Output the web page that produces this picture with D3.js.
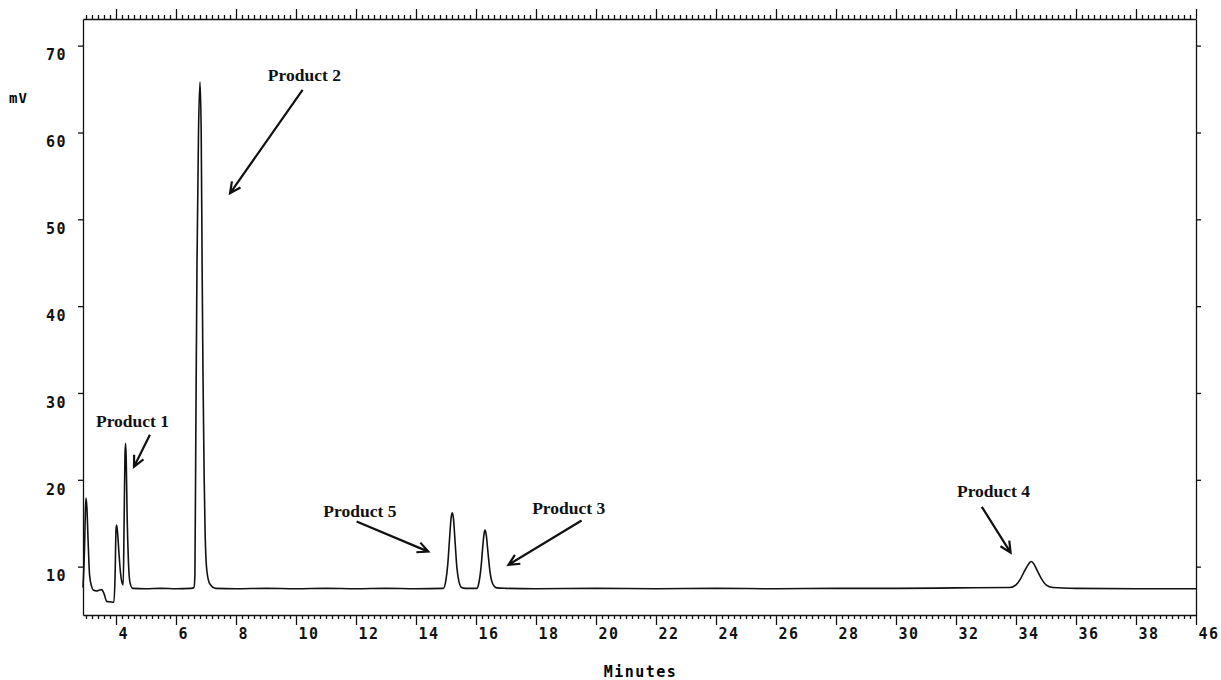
<!DOCTYPE html>
<html>
<head>
<meta charset="utf-8">
<script src="https://cdn.jsdelivr.net/npm/d3@7"></script>
<style>
  body { margin: 0; background: #fff; }
  svg { display: block; }
  .axis text { font-family: "DejaVu Sans Mono", monospace; font-weight: bold; font-size: 15px; letter-spacing: 1.5px; fill: #111; }
  .axis path, .axis line { stroke: #111; stroke-width: 1.3; }
  .note { font-family: "Liberation Serif", "Times New Roman", serif; font-weight: bold; font-size: 17.5px; fill: #111; }
</style>
</head>
<body>
<svg id="chart" width="1221" height="680"></svg>
<script>
// retention time (minutes) and detector signal (mV)
var times = [2.9, 2.95, 2.98, 3.0, 3.03, 3.07, 3.12, 3.19, 3.24, 3.35, 3.45, 3.52, 3.6, 3.69, 3.8, 3.93,
  3.97, 4.0, 4.02, 4.05, 4.1, 4.15, 4.19, 4.24, 4.27, 4.3, 4.32, 4.34, 4.37, 4.41, 4.47, 4.56,
  5.0, 5.5, 6.0, 6.5, 6.6, 6.63, 6.66, 6.7, 6.75, 6.8, 6.84, 6.87, 6.9, 6.94, 6.97, 7.03, 7.13, 7.33,
  8, 9, 10, 11, 12, 13, 14, 14.91, 14.99, 15.06, 15.12, 15.17, 15.21, 15.25, 15.3, 15.36, 15.43, 15.52, 15.65,
  16.03, 16.1, 16.17, 16.23, 16.27, 16.3, 16.34, 16.4, 16.47, 16.56, 16.69,
  17, 18, 20, 22, 24, 26, 28, 30, 32, 33.8, 34.0, 34.15, 34.3, 34.42, 34.5, 34.58, 34.7, 34.85, 35.0, 35.23,
  36, 38, 40];
var signal = [7.6, 12, 16.5, 17.9, 16.8, 13, 9, 7.7, 7.3, 7.2, 7.3, 7.35, 6.9, 6.0, 5.95, 5.9,
  9, 14.2, 14.8, 14, 11.5, 9.3, 8.3, 7.9, 15, 23, 24.2, 22.5, 16, 11, 8.1, 7.5,
  7.45, 7.5, 7.45, 7.5, 7.6, 9, 25, 45, 60, 65.8, 60, 45, 32, 20, 14, 9.5, 8.0, 7.5,
  7.45, 7.5, 7.45, 7.5, 7.45, 7.5, 7.45, 7.5, 8.3, 10.3, 13.3, 15.6, 16.2, 15.5, 13.0, 10.0, 8.3, 7.6, 7.5,
  7.5, 8.2, 10.0, 12.5, 13.8, 14.2, 13.7, 11.6, 9.3, 8.0, 7.55,
  7.5, 7.45, 7.5, 7.45, 7.5, 7.45, 7.5, 7.5, 7.55, 7.6, 7.9, 8.6, 9.6, 10.3, 10.6, 10.4, 9.6, 8.6, 7.9, 7.6,
  7.5, 7.45, 7.45];

var xTickValues = [4, 6, 8, 10, 12, 14, 16, 18, 20, 22, 24, 26, 28, 30, 32, 34, 36, 38, 40];
var xTickLabels = ["4", "6", "8", "10", "12", "14", "16", "18", "20", "22", "24", "26", "28", "30", "32", "34", "36", "38", "46"];
var yTickValues = [10, 20, 30, 40, 50, 60, 70];

// labels: text, anchor [min, mV], arrow start and end [min, mV]
var labelNames = ["Product 1", "Product 2", "Product 5", "Product 3", "Product 4"];
var labelAt = [[4.55, 26.1], [10.28, 65.94], [12.13, 15.7], [19.09, 16.08], [33.25, 18.07]];
var arrowFrom = [[5.13, 25.19], [10.22, 64.9], [12.02, 15.19], [19.52, 15.31], [32.86, 16.89]];
var arrowTo = [[4.6, 21.5], [7.8, 53.0], [14.41, 11.73], [17.08, 10.2], [33.82, 11.61]];

var svg = d3.select("#chart");
var plotLeft = 83, plotRight = 1196, plotTop = 19, plotBottom = 615;

var x = d3.scaleLinear().domain([2.9, 40]).range([plotLeft, plotRight]);
var y = d3.scaleLinear().domain([4.43, 73.07]).range([plotBottom, plotTop]);

//minor ticks every 0.2 min, skipping the even minutes
var minorTicks = d3.range(30, 401, 2).filter(d => d % 20 != 0).map(d => d / 10);

// bottom axis
svg.append("g").attr("class", "axis")
  .attr("transform", "translate(0," + plotBottom + ")")
  .call(d3.axisBottom(x).tickValues(minorTicks).tickSize(4).tickSizeOuter(0).tickFormat(""));
var bx = svg.append("g").attr("class", "axis")
  .attr("transform", "translate(0," + plotBottom + ")")
  .call(d3.axisBottom(x).tickValues(xTickValues).tickSize(10).tickSizeOuter(0)
    .tickFormat((d, i) => xTickLabels[i]));
bx.selectAll("text").attr("text-anchor", "start").attr("dx", 2).attr("y", 13);
bx.select(".domain").remove();

// top axis
svg.append("g").attr("class", "axis")
  .attr("transform", "translate(0," + plotTop + ")")
  .call(d3.axisTop(x).tickValues(minorTicks).tickSize(4).tickSizeOuter(0).tickFormat(""));
svg.append("g").attr("class", "axis")
  .attr("transform", "translate(0," + plotTop + ")")
  .call(d3.axisTop(x).tickValues(xTickValues).tickSize(10).tickSizeOuter(0).tickFormat(""))
  .select(".domain").remove();

// left and right axes
var ly = svg.append("g").attr("class", "axis")
  .attr("transform", "translate(" + plotLeft + ",0)")
  .call(d3.axisLeft(y).tickValues(yTickValues).tickSize(5).tickSizeOuter(0).tickPadding(11));
ly.selectAll("text").attr("dy", "0.95em").attr("y", 0);
svg.append("g").attr("class", "axis")
  .attr("transform", "translate(" + plotRight + ",0)")
  .call(d3.axisRight(y).tickValues(yTickValues).tickSize(5).tickSizeOuter(0).tickFormat(""));

// axis titles
svg.append("text")
  .attr("x", 9).attr("y", 103)
  .style("font-family", "DejaVu Sans Mono, monospace").style("font-weight", "bold").style("font-size", "14px")
  .style("letter-spacing", "1px")
  .text("mV");
svg.append("text")
  .attr("x", (plotLeft + plotRight) / 2 + 1).attr("y", 677)
  .attr("text-anchor", "middle")
  .style("font-family", "DejaVu Sans Mono, monospace").style("font-weight", "bold").style("font-size", "15px")
  .style("letter-spacing", "1.5px")
  .text("Minutes");

// chromatogram trace
var line = d3.line()
  .x((d, i) => x(times[i]))
  .y(d => y(d))
  .curve(d3.curveMonotoneX);

svg.append("path")
  .datum(signal)
  .attr("d", line)
  .attr("fill", "none")
  .attr("stroke", "#111")
  .attr("stroke-width", 1.6);

// annotations
labelNames.forEach((name, i) => {
  svg.append("text").attr("class", "note")
    .attr("x", x(labelAt[i][0])).attr("y", y(labelAt[i][1]))
    .attr("text-anchor", "middle")
    .text(name);

  var x1 = x(arrowFrom[i][0]), y1 = y(arrowFrom[i][1]),
      x2 = x(arrowTo[i][0]), y2 = y(arrowTo[i][1]);
  var ang = Math.atan2(y2 - y1, x2 - x1), head = 12, spread = 0.45;
  var p = d3.path();
  p.moveTo(x1, y1);
  p.lineTo(x2, y2);
  p.moveTo(x2 - head * Math.cos(ang - spread), y2 - head * Math.sin(ang - spread));
  p.lineTo(x2, y2);
  p.lineTo(x2 - head * Math.cos(ang + spread), y2 - head * Math.sin(ang + spread));
  svg.append("path")
    .attr("d", p.toString())
    .attr("fill", "none")
    .attr("stroke", "#111")
    .attr("stroke-width", 2.2);
});
</script>
</body>
</html>
